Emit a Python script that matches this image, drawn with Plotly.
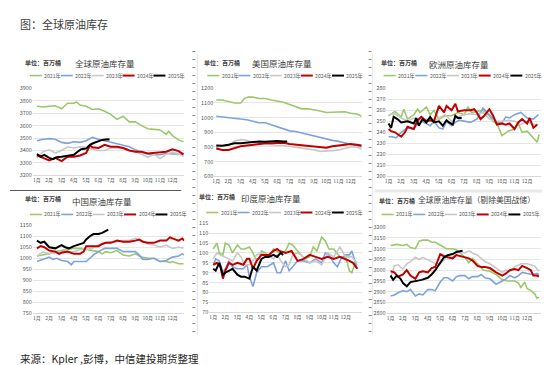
import plotly.graph_objects as go

W, H = 550, 365
FONT = "Noto Sans CJK SC"

MONTH_LABELS = [f"{i}月" for i in range(1, 13)]
YEARS = ["2021年", "2022年", "2023年", "2024年", "2025年"]
COLORS = ["#9BC86A", "#7EA3DB", "#C8C8C8", "#C00000", "#000000"]
WIDTHS = [1.6, 1.6, 1.6, 2.0, 2.0]

SEMI = [1, 1.5, 2, 2.5, 3, 3.5, 4, 4.5, 5, 5.5, 6, 6.5, 7, 7.5, 8, 8.5, 9, 9.5, 10, 10.5, 11, 11.5, 12, 12.5, 12.9]

# ---------------- Panel 1: 全球原油库存量 ----------------
G21_x = [1, 1.5, 2, 2.5, 3, 3.5, 4, 4.2, 4.5, 5, 5.5, 6, 6.5, 7, 7.5, 8, 8.5, 9, 9.5, 10, 10.5, 11, 11.5, 11.7, 12, 12.5, 12.9]
G21 = [3755, 3750, 3755, 3760, 3735, 3780, 3780, 3790, 3765, 3755, 3730, 3735, 3715, 3690, 3650, 3675, 3630, 3630, 3600, 3575, 3570, 3565, 3530, 3555, 3520, 3485, 3470]
G22_x = SEMI
G22 = [3478, 3490, 3495, 3490, 3465, 3457, 3470, 3465, 3478, 3505, 3490, 3478, 3470, 3452, 3445, 3430, 3405, 3385, 3372, 3365, 3365, 3378, 3372, 3372, 3365]
G23_x = SEMI
G23 = [3340, 3390, 3405, 3380, 3400, 3430, 3420, 3430, 3425, 3410, 3400, 3400, 3420, 3420, 3420, 3400, 3390, 3370, 3345, 3370, 3335, 3370, 3385, 3375, 3350]
G24_x = [1, 1.5, 2, 2.5, 3, 3.5, 4, 4.5, 5, 5.3, 5.5, 6, 6.5, 7, 7.5, 8, 8.5, 9, 9.5, 10, 10.5, 11, 11.5, 12, 12.5, 12.9]
G24 = [3360, 3340, 3320, 3340, 3315, 3350, 3350, 3360, 3380, 3440, 3425, 3420, 3445, 3430, 3430, 3420, 3400, 3390, 3390, 3375, 3380, 3390, 3390, 3410, 3395, 3368]
G25_x = [1, 1.3, 1.6, 2, 2.3, 2.6, 3, 3.5, 4, 4.3, 4.6, 5, 5.3, 5.6, 6, 6.3, 6.7, 6.9]
G25 = [3370, 3350, 3365, 3340, 3330, 3345, 3350, 3355, 3365, 3390, 3410, 3415, 3445, 3460, 3475, 3485, 3490, 3488]

# ---------------- Panel 2: 美国原油库存量 ----------------
U21_x = [1, 1.5, 2, 2.5, 3, 3.3, 3.6, 4, 4.5, 5, 5.5, 6, 6.5, 7, 7.5, 8, 8.5, 9, 9.5, 10, 10.5, 11, 11.5, 12, 12.5, 12.9]
U21 = [1120, 1120, 1110, 1100, 1100, 1130, 1140, 1140, 1130, 1130, 1120, 1115, 1105, 1090, 1075, 1060, 1060, 1055, 1045, 1035, 1035, 1040, 1040, 1030, 1025, 1010]
U22_x = SEMI
U22 = [1010, 1005, 1000, 995, 995, 985, 975, 965, 965, 950, 935, 925, 910, 905, 895, 885, 870, 860, 850, 845, 838, 828, 815, 805, 800]
U23_x = SEMI
U23 = [795, 810, 810, 840, 850, 845, 830, 825, 815, 815, 810, 810, 805, 800, 795, 790, 780, 770, 770, 775, 780, 790, 800, 800, 785]
U24_x = SEMI
U24 = [790, 780, 780, 795, 805, 810, 815, 820, 825, 825, 825, 828, 820, 815, 810, 808, 800, 798, 795, 805, 810, 818, 820, 815, 810]
U25_x = [1, 1.5, 2, 2.5, 3, 3.5, 4, 4.5, 5, 5.5, 6, 6.5, 6.8]
U25 = [810, 808, 815, 825, 825, 828, 835, 838, 835, 838, 840, 838, 838]

# ---------------- Panel 3: 欧洲原油库存量 ----------------
E21_x = [1, 1.5, 2, 2.2, 2.5, 3, 3.3, 3.5, 4, 4.3, 4.6, 5, 5.5, 6, 6.5, 7, 7.3, 7.6, 8, 8.5, 9, 9.3, 9.6, 10, 10.5, 11, 11.3, 11.6, 12, 12.5, 12.8, 12.95]
E21 = [255, 259, 254, 261, 252, 256, 261, 258, 263, 256, 260, 252, 255, 255, 258, 256, 263, 258, 259, 260, 255, 250, 248, 237, 241, 243, 248, 240, 241, 235, 231, 238]
E22_x = [1, 1.3, 1.6, 2, 2.5, 3, 3.5, 4, 4.3, 4.6, 5, 5.3, 5.6, 6, 6.3, 6.6, 7, 7.5, 8, 8.5, 9, 9.5, 10, 10.3, 10.6, 11, 11.5, 12, 12.5, 12.9]
E22 = [236, 236, 235, 240, 244, 243, 251, 248, 246, 250, 244, 243, 250, 246, 249, 251, 250, 249, 252, 262, 256, 250, 248, 254, 253, 256, 258, 253, 252, 256]
E23_x = SEMI
E23 = [256, 257, 253, 250, 253, 250, 252, 250, 253, 256, 250, 254, 256, 257, 256, 258, 252, 250, 250, 251, 250, 247, 250, 247, 247]
E24_x = [1, 1.2, 1.5, 2, 2.3, 2.5, 3, 3.3, 3.6, 4, 4.3, 4.6, 5, 5.2, 5.4, 5.6, 6, 6.3, 6.5, 7, 7.5, 7.8, 8, 8.3, 8.6, 9, 9.3, 9.6, 10, 10.3, 10.6, 11, 11.3, 11.6, 12, 12.2, 12.5, 12.8]
E24 = [243, 241, 240, 236, 240, 245, 243, 251, 254, 250, 251, 250, 264, 261, 258, 264, 260, 266, 259, 260, 260, 261, 258, 252, 255, 261, 255, 247, 248, 247, 248, 243, 249, 252, 248, 253, 244, 247]
E25_x = [1, 1.2, 1.4, 1.7, 2, 2.5, 3, 3.2, 3.4, 3.7, 4, 4.3, 4.6, 5, 5.3, 5.6, 5.8, 6.1, 6.3, 6.5, 6.8]
E25 = [248, 244, 254, 252, 249, 250, 248, 253, 246, 252, 249, 254, 249, 250, 246, 251, 249, 247, 255, 253, 253]

# ---------------- Panel 4: 中国原油库存量 ----------------
C21_x = [1, 1.5, 2, 2.5, 3, 3.5, 4, 4.5, 5, 5.5, 6, 6.3, 6.6, 7, 7.5, 8, 8.5, 9, 9.5, 10, 10.5, 11, 11.5, 11.8, 12, 12.5, 12.9]
C21 = [1010, 1015, 1020, 1030, 1035, 1040, 1045, 1045, 1040, 1035, 1030, 1020, 1030, 1025, 1035, 1015, 1010, 1020, 1005, 1000, 1000, 985, 985, 980, 985, 975, 975]
C22_x = [1, 1.5, 2, 2.3, 2.6, 3, 3.5, 3.8, 4, 4.5, 5, 5.3, 5.6, 6, 6.5, 7, 7.5, 8, 8.5, 9, 9.3, 9.6, 10, 10.5, 11, 11.5, 12, 12.5, 12.8, 12.95]
C22 = [985, 995, 1005, 995, 1000, 990, 985, 970, 985, 985, 985, 1000, 1015, 1030, 1045, 1045, 1045, 1030, 1030, 1030, 1015, 995, 995, 1000, 985, 990, 1005, 1010, 1020, 1015]
C23_x = SEMI
C23 = [1010, 1030, 1020, 1025, 1030, 1025, 1030, 1040, 1040, 1045, 1060, 1070, 1075, 1075, 1080, 1080, 1090, 1080, 1065, 1060, 1050, 1060, 1045, 1050, 1045]
C24_x = [1, 1.3, 1.6, 2, 2.5, 2.8, 3, 3.5, 4, 4.5, 4.8, 5, 5.5, 6, 6.3, 6.6, 7, 7.5, 8, 8.5, 9, 9.3, 9.6, 10, 10.5, 11, 11.5, 11.8, 12, 12.5, 12.8, 12.95]
C24 = [1045, 1055, 1050, 1035, 1030, 1020, 1025, 1030, 1020, 1020, 1030, 1055, 1055, 1055, 1065, 1070, 1070, 1080, 1075, 1075, 1080, 1085, 1075, 1070, 1070, 1080, 1080, 1095, 1090, 1080, 1090, 1080]
C25_x = [1, 1.3, 1.6, 2, 2.5, 3, 3.3, 3.6, 4, 4.5, 4.8, 5, 5.3, 5.6, 6, 6.3, 6.6, 6.8]
C25 = [1080, 1070, 1075, 1050, 1045, 1060, 1050, 1045, 1055, 1065, 1070, 1085, 1100, 1110, 1110, 1115, 1125, 1130]

# ---------------- Panel 5: 印度原油库存量 ----------------
I21_x = [1, 1.3, 1.5, 1.8, 2, 2.3, 2.6, 3, 3.3, 3.6, 4, 4.3, 4.5, 4.8, 5, 5.3, 5.6, 6, 6.5, 7, 7.3, 7.6, 8, 8.3, 8.6, 9, 9.3, 9.6, 10, 10.3, 10.6, 11, 11.5, 12, 12.3, 12.5, 12.8, 12.95]
I21 = [102, 105, 100, 99, 105, 104, 100, 104, 102, 102, 103, 100, 97, 97, 101, 100, 98, 102, 100, 101, 105, 104, 101, 99, 97, 98, 103, 101, 108, 106, 102, 102, 98, 98, 91, 90, 95, 94]
I22_x = [1, 1.2, 1.5, 1.8, 2, 2.3, 2.6, 3, 3.5, 3.8, 4, 4.3, 4.6, 5, 5.5, 6, 6.3, 6.6, 7, 7.3, 7.6, 8, 8.5, 9, 9.5, 10, 10.3, 10.6, 11, 11.3, 11.6, 12, 12.3, 12.5, 12.8, 12.95]
I22 = [94, 97, 96, 90, 92, 96, 93, 92, 92, 94, 88, 83, 90, 93, 93, 95, 90, 90, 96, 91, 93, 96, 96, 95, 97, 95, 100, 99, 95, 93, 97, 99, 99, 101, 95, 92]
I23_x = [1, 1.3, 1.6, 2, 2.3, 2.6, 3, 3.3, 3.6, 4, 4.3, 4.6, 5, 5.5, 6, 6.3, 6.6, 7, 7.3, 7.6, 8, 8.3, 8.6, 9, 9.5, 10, 10.5, 11, 11.5, 12, 12.5, 12.9]
I23 = [97, 100, 99, 98, 97, 96, 100, 98, 94, 94, 96, 99, 100, 99, 97, 99, 96, 93, 94, 99, 100, 99, 97, 95, 96, 94, 100, 98, 103, 98, 98, 95]
I24_x = [1, 1.3, 1.6, 1.8, 2, 2.3, 2.6, 3, 3.5, 3.8, 4, 4.3, 4.6, 5, 5.3, 5.6, 6, 6.3, 6.5, 7, 7.5, 7.8, 8, 8.5, 9, 9.5, 10, 10.5, 11, 11.5, 12, 12.3, 12.6, 12.95]
I24 = [94, 95, 93, 87, 91, 95, 94, 95, 94, 97, 97, 92, 96, 99, 99, 99, 101, 102, 101, 100, 101, 98, 96, 97, 99, 98, 97, 98, 97, 98, 97, 96, 95, 92]
I25_x = [1, 1.2, 1.5, 1.8, 2, 2.3, 2.6, 3, 3.3, 3.6, 4, 4.3, 4.6, 5, 5.3, 5.6, 6, 6.3, 6.6, 6.8]
I25 = [92, 91, 95, 89, 90, 91, 92, 89, 88, 88, 87, 93, 91, 97, 98, 98, 99, 98, 100, 99]

# ---------------- Panel 6: 全球原油库存量（剔除美国战储） ----------------
S21_x = [1, 1.5, 2, 2.3, 2.6, 3, 3.3, 3.6, 4, 4.3, 4.6, 5, 5.5, 6, 6.3, 6.6, 7, 7.3, 7.6, 8, 8.5, 9, 9.5, 10, 10.5, 11, 11.3, 11.5, 11.8, 12, 12.3, 12.6, 12.8, 12.95]
S21 = [3115, 3120, 3115, 3120, 3105, 3100, 3135, 3140, 3140, 3130, 3130, 3115, 3100, 3100, 3095, 3080, 3060, 3035, 3055, 3030, 3000, 2995, 2980, 2955, 2950, 2950, 2940, 2920, 2945, 2915, 2905, 2890, 2870, 2875]
S22_x = [1, 1.3, 1.6, 2, 2.3, 2.6, 3, 3.3, 3.6, 4, 4.3, 4.6, 5, 5.3, 5.6, 6, 6.3, 6.6, 7, 7.3, 7.6, 8, 8.3, 8.6, 9, 9.5, 10, 10.3, 10.6, 11, 11.3, 11.6, 12, 12.5, 12.8, 12.95]
S22 = [2880, 2885, 2895, 2905, 2900, 2910, 2880, 2890, 2885, 2910, 2910, 2905, 2945, 2965, 2965, 2950, 2970, 2975, 2975, 2960, 2970, 2970, 2980, 2965, 2960, 2935, 2950, 2960, 2975, 2965, 2975, 2990, 2985, 2980, 2985, 2980]
S23_x = [1, 1.3, 1.6, 2, 2.3, 2.6, 3, 3.3, 3.6, 4, 4.3, 4.6, 5, 5.5, 6, 6.3, 6.6, 7, 7.3, 7.6, 8, 8.3, 8.6, 9, 9.5, 10, 10.3, 10.6, 11, 11.5, 12, 12.3, 12.6, 12.95]
S23 = [2965, 3020, 3025, 3005, 3030, 3040, 3060, 3050, 3060, 3050, 3040, 3030, 3030, 3060, 3060, 3080, 3085, 3080, 3090, 3080, 3070, 3055, 3040, 3030, 3010, 2990, 3000, 2995, 3015, 3030, 3030, 3025, 3020, 2995]
S24_x = [1, 1.3, 1.6, 2, 2.3, 2.6, 3, 3.3, 3.6, 4, 4.3, 4.6, 5, 5.3, 5.6, 6, 6.3, 6.6, 7, 7.3, 7.6, 8, 8.3, 8.6, 9, 9.5, 10, 10.3, 10.6, 11, 11.3, 11.6, 12, 12.3, 12.5, 12.8, 12.95]
S24 = [2995, 2990, 2970, 2980, 3000, 2975, 2960, 2990, 2995, 2990, 3010, 3015, 3075, 3065, 3060, 3055, 3070, 3065, 3060, 3055, 3045, 3020, 3015, 3015, 3010, 2990, 2975, 2985, 3000, 3005, 3000, 3020, 3010, 3000, 2975, 2975, 2970]
S25_x = [1, 1.2, 1.5, 1.8, 2, 2.3, 2.6, 3, 3.5, 4, 4.3, 4.6, 5, 5.3, 5.6, 6, 6.3, 6.6, 6.8]
S25 = [2975, 2955, 2975, 2960, 2940, 2925, 2945, 2950, 2955, 2965, 2980, 3000, 3035, 3060, 3070, 3075, 3085, 3090, 3090]

PANELS = [
    dict(title="全球原油库存量", tsize=8.5, series=[(G21_x, G21), (G22_x, G22), (G23_x, G23), (G24_x, G24), (G25_x, G25)],
         yr=(3200, 3900), dt=100, ax=(23, 175), m=(27, 163), ay=(78, 167),
         hdr=(13, 52), ttl=(95, 52), leg=(20, 65, 31.0)),
    dict(title="美国原油库存量", tsize=8.5, series=[(U21_x, U21), (U22_x, U22), (U23_x, U23), (U24_x, U24), (U25_x, U25)],
         yr=(600, 1200), dt=100, ax=(205, 353), m=(207, 342), ay=(78, 168),
         hdr=(193, 52), ttl=(273, 52), leg=(198, 65, 31.3)),
    dict(title="欧洲原油库存量", tsize=8.5, series=[(E21_x, E21), (E22_x, E22), (E23_x, E23), (E24_x, E24), (E25_x, E25)],
         yr=(200, 280), dt=10, ax=(378, 533), m=(380, 519), ay=(78, 168),
         hdr=(370, 52), ttl=(451, 53), leg=(375, 65, 31.8)),
    dict(title="中国原油库存量", tsize=8.5, series=[(C21_x, C21), (C22_x, C22), (C23_x, C23), (C24_x, C24), (C25_x, C25)],
         yr=(750, 1150), dt=50, ax=(23, 175), m=(27, 163), ay=(218, 308),
         hdr=(13, 191), ttl=(92, 193), leg=(20, 207, 31.5)),
    dict(title="印度原油库存量", tsize=8.5, series=[(I21_x, I21), (I22_x, I22), (I23_x, I23), (I24_x, I24), (I25_x, I25)],
         yr=(70, 115), dt=5, ax=(200, 353), m=(204, 337), ay=(216, 307),
         hdr=(188, 189), ttl=(262, 190), leg=(197, 205, 31.5)),
    dict(title="全球原油库存量（剔除美国战储）", tsize=7.8, series=[(S21_x, S21), (S22_x, S22), (S23_x, S23), (S24_x, S24), (S25_x, S25)],
         yr=(2800, 3200), dt=50, ax=(378, 533), m=(382, 519), ay=(220, 308),
         hdr=(368, 193), ttl=(468, 192), leg=(373, 207, 31.8)),
]


def px_x(p):
    return p / W


def px_y(p):
    return 1 - p / H


fig = go.Figure()
layout = dict(width=W, height=H, margin=dict(l=0, r=0, t=0, b=0),
              paper_bgcolor="white", plot_bgcolor="white", showlegend=False,
              font=dict(family=FONT, color="#595959"))
shapes = []
annotations = []

for i, p in enumerate(PANELS):
    k = i + 1
    xa = "x" if k == 1 else f"x{k}"
    ya = "y" if k == 1 else f"y{k}"
    axL, axR = p["ax"]
    p1, p12 = p["m"]
    b = (p12 - p1) / 11.0
    xr = [1 - (p1 - axL) / b, 12 + (axR - p12) / b]
    top, bot = p["ay"]
    layout[f"xaxis{'' if k == 1 else k}"] = dict(
        domain=[px_x(axL), px_x(axR)], range=xr, anchor=ya,
        tickvals=list(range(1, 13)), ticktext=MONTH_LABELS, tickangle=0,
        tickfont=dict(size=5, color="#595959", family=FONT),
        showgrid=False, zeroline=False, showline=True, linecolor="#D9D9D9",
        linewidth=1, ticks="", fixedrange=True)
    layout[f"yaxis{'' if k == 1 else k}"] = dict(
        domain=[px_y(bot), px_y(top)], range=[p["yr"][0], p["yr"][1]], anchor=xa,
        dtick=p["dt"], tick0=p["yr"][0],
        tickfont=dict(size=5.5, color="#595959", family=FONT),
        showgrid=True, gridcolor="#E6E6E6", gridwidth=0.8, zeroline=False,
        showline=False, ticks="", fixedrange=True)
    for j, (xs, ys) in enumerate(p["series"]):
        fig.add_trace(go.Scatter(x=xs, y=ys, mode="lines", name=YEARS[j],
                                 xaxis=xa, yaxis=ya,
                                 line=dict(color=COLORS[j], width=WIDTHS[j])))
    hx, hy = p["hdr"]
    annotations.append(dict(x=px_x(hx), y=px_y(hy), xref="paper", yref="paper",
                            text="<b>单位：百万桶</b>", showarrow=False, xanchor="left",
                            yanchor="middle", font=dict(size=6, color="#404040", family=FONT)))
    tx, ty = p["ttl"]
    annotations.append(dict(x=px_x(tx), y=px_y(ty), xref="paper", yref="paper",
                            text=p["title"], showarrow=False, xanchor="center",
                            yanchor="middle", font=dict(size=p["tsize"], color="#404040", family=FONT)))
    lx, ly, step = p["leg"]
    for j in range(5):
        x0 = lx + step * j
        shapes.append(dict(type="line", xref="paper", yref="paper",
                           x0=px_x(x0), x1=px_x(x0 + 12), y0=px_y(ly), y1=px_y(ly),
                           line=dict(color=COLORS[j], width=WIDTHS[j])))
        annotations.append(dict(x=px_x(x0 + 12.5), y=px_y(ly), xref="paper", yref="paper",
                                text=YEARS[j], showarrow=False, xanchor="left", yanchor="middle",
                                font=dict(size=5.2, color="#595959", family=FONT)))

# separators between the pasted charts
for xs in (184.5, 361.5):
    shapes.append(dict(type="line", xref="paper", yref="paper",
                       x0=px_x(xs), x1=px_x(xs), y0=px_y(40), y1=px_y(332),
                       line=dict(color="#8C8C8C", width=3, dash="1px,7px")))
for xs in (188, 364):
    shapes.append(dict(type="line", xref="paper", yref="paper",
                       x0=px_x(xs), x1=px_x(xs), y0=px_y(42), y1=px_y(330),
                       line=dict(color="#E6E6E6", width=1)))
shapes.append(dict(type="line", xref="paper", yref="paper",
                   x0=px_x(0), x1=px_x(172), y0=px_y(182.5), y1=px_y(182.5),
                   line=dict(color="#595959", width=1)))
shapes.append(dict(type="line", xref="paper", yref="paper",
                   x0=px_x(366), x1=px_x(550), y0=px_y(183), y1=px_y(183),
                   line=dict(color="#E8E8E8", width=3)))

annotations.append(dict(x=px_x(8), y=px_y(12), xref="paper", yref="paper",
                        text="图：全球原油库存", showarrow=False, xanchor="left", yanchor="middle",
                        font=dict(size=11, color="#404040", family=FONT)))
annotations.append(dict(x=px_x(8), y=px_y(354), xref="paper", yref="paper",
                        text="来源：Kpler ,彭博，中信建投期货整理", showarrow=False, xanchor="left",
                        yanchor="middle", font=dict(size=10.5, color="#262626", family=FONT)))

layout["shapes"] = shapes
layout["annotations"] = annotations
fig.update_layout(**layout)
fig.write_html("out.html")
